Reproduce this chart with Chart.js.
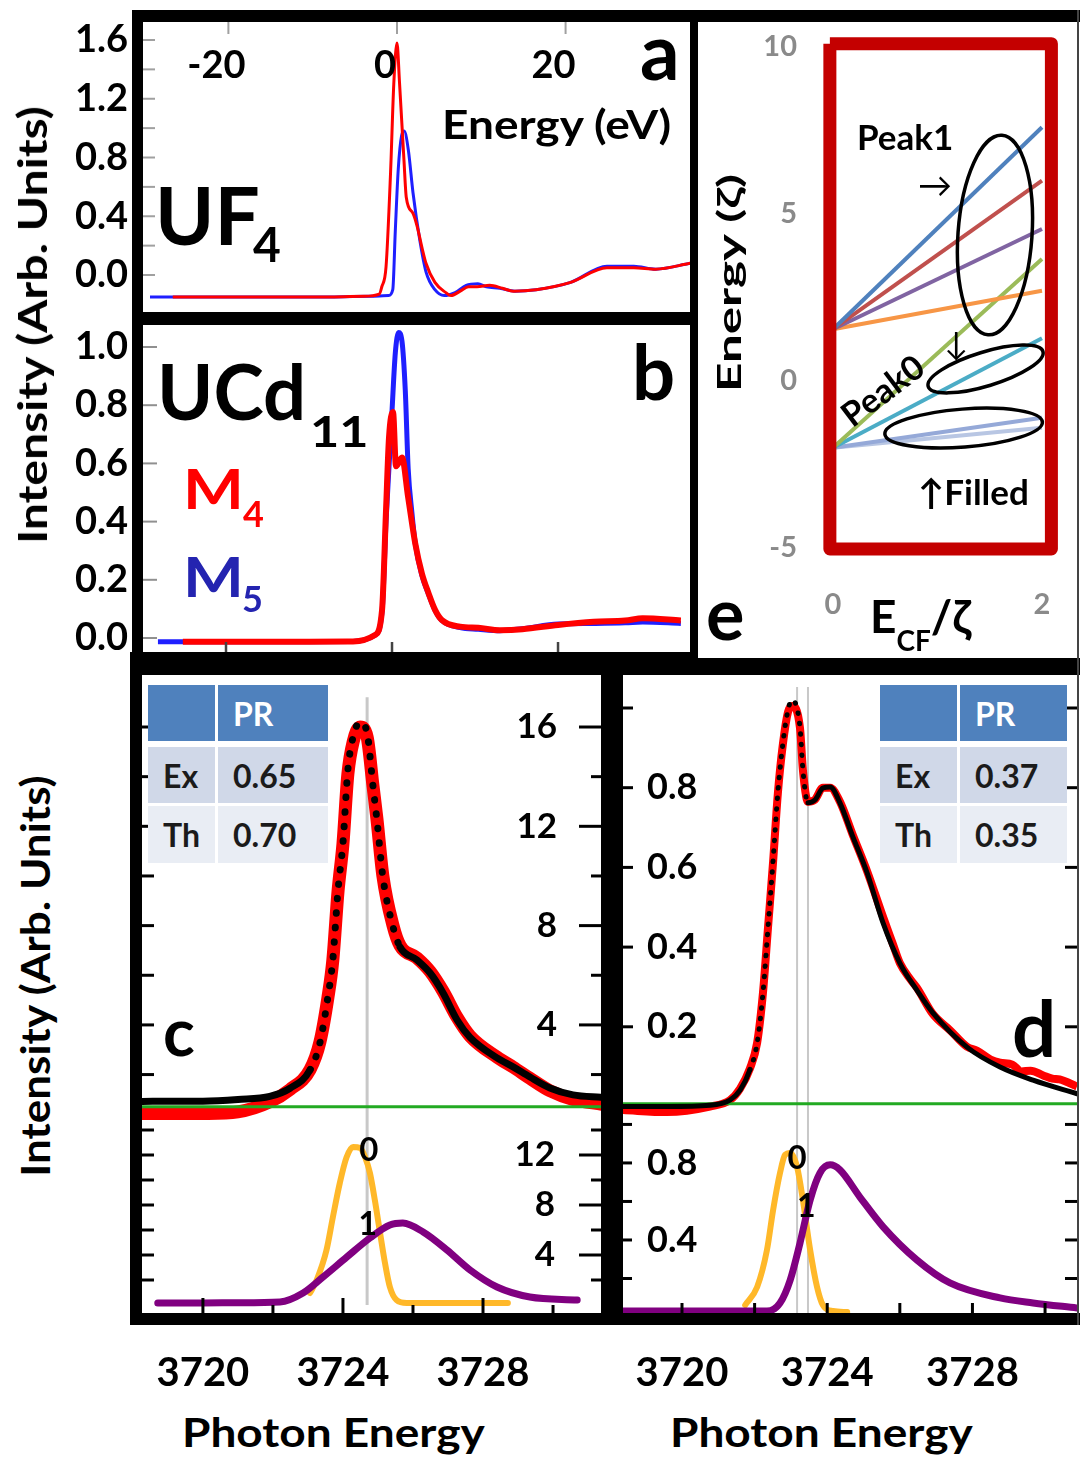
<!DOCTYPE html>
<html lang="en">
<head>
<meta charset="UTF-8">
<title>UF4 / UCd11 M-edge spectra</title>
<script src="https://cdn.jsdelivr.net/npm/chart.js"></script>
<style>
  html, body { margin: 0; padding: 0; background: #fff; }
  #page { position: relative; width: 1080px; height: 1457px; overflow: hidden; font-family: Lato, "Open Sans", sans-serif; font-weight: 700; }
  #page canvas { position: absolute; }
  .bar { position: absolute; background: #000; z-index: 5; }
  .lbl { position: absolute; white-space: nowrap; line-height: 1; z-index: 6; transform-origin: 0 0; }
  .cell { position: absolute; z-index: 4; box-sizing: border-box; padding-left: 15px; display: flex; align-items: center; font-size: 32px; }
</style>
</head>
<body>
<div id="page">
  <canvas id="chartA" width="650" height="290" style="left:40px;top:22px"></canvas>
  <canvas id="chartB" width="650" height="327" style="left:40px;top:325px"></canvas>
  <canvas id="chartE" width="379" height="636" style="left:698px;top:22px"></canvas>
  <canvas id="chartCtop" width="459" height="445" style="left:142px;top:675px"></canvas>
  <canvas id="chartCbot" width="459" height="287" style="left:142px;top:1120px"></canvas>
  <canvas id="chartDtop" width="454" height="445" style="left:623px;top:675px"></canvas>
  <canvas id="chartDbot" width="454" height="287" style="left:623px;top:1120px"></canvas>
</div>

<script>
// ---- panel a: UF4, energy relative to edge (eV) ----
const aM4E = [-26.6, -10, -4, -2.1, -1.8, -1.3, -0.76, -0.38, 0, 0.3, 0.83, 1.1, 1.9, 2.4, 2.95, 3.44, 4.5, 5.8, 6.4, 7.5, 8.5, 9.5, 11, 12.5, 13.8, 16.5, 20.6, 24.9, 28.1, 30.7, 34.8];
const aM4I = [-0.15, -0.15, -0.145, -0.13, -0.08, 0.055, 0.7, 1.3, 1.58, 1.31, 0.78, 0.53, 0.42, 0.33, 0.19, 0.08, -0.05, -0.12, -0.14, -0.11, -0.08, -0.08, -0.07, -0.09, -0.11, -0.1, -0.05, 0.05, 0.05, 0.04, 0.08];
const aM5E = [-29.3, -10, -3, -1.0, -0.5, -0.2, 0.15, 0.55, 0.85, 1.35, 1.9, 2.7, 3.45, 4.5, 5.6, 6.9, 8.2, 9.6, 10.6, 12.2, 14, 16.5, 20.6, 24.9, 28.1, 30.7, 34.8];
const aM5I = [-0.15, -0.15, -0.145, -0.14, -0.1, 0.3, 0.72, 0.95, 0.98, 0.85, 0.56, 0.24, 0.02, -0.1, -0.14, -0.12, -0.07, -0.06, -0.08, -0.09, -0.11, -0.1, -0.05, 0.06, 0.06, 0.04, 0.08];
const aXTicks = [-20, 0, 20];
const aYTicks = [0, 0.4, 0.8, 1.2, 1.6];

// ---- panel b: UCd11 ----
const bM4E = [-25.2, -10, -4.7, -2.05, -1.2, -0.72, -0.36, 0.12, 0.48, 1.2, 1.93, 2.8, 3.6, 4.4, 5.2, 6.0, 8.2, 10.4, 13, 15.7, 20, 24.3, 28.1, 30.2, 34.8];
const bM4I = [-0.013, -0.013, -0.012, 0.01, 0.096, 0.44, 0.69, 0.777, 0.59, 0.62, 0.486, 0.325, 0.222, 0.154, 0.096, 0.062, 0.039, 0.035, 0.027, 0.03, 0.045, 0.056, 0.06, 0.068, 0.06];
const bM5E = [-28.2, -10, -4.7, -2.05, -1.2, -0.72, -0.3, 0, 0.4, 0.8, 1.2, 1.6, 1.95, 2.4, 2.8, 3.6, 4.4, 5.2, 6.0, 8.2, 10.4, 13, 15.7, 20, 24.3, 28.1, 30.2, 34.8];
const bM5I = [-0.013, -0.013, -0.012, 0.01, 0.09, 0.4, 0.62, 0.78, 0.98, 1.05, 1.02, 0.85, 0.58, 0.43, 0.325, 0.215, 0.15, 0.094, 0.06, 0.036, 0.03, 0.025, 0.032, 0.048, 0.05, 0.052, 0.055, 0.05];
const bYTicks = [0, 0.2, 0.4, 0.6, 0.8, 1.0];

// ---- panel e: levels vs E_CF / zeta ----
const eX = [0, 2];
const eStart = [1.55, 1.55, 1.55, 1.55, -2.0, -2.0, -2.0, -2.0];
const eEnd = [7.6, 6.0, 4.55, 2.7, 3.65, 1.28, -1.1, -1.4];
const eBoxX = [-0.03, 2.09, 2.09, -0.03, -0.03];
const eBoxY = [10.1, 10.1, -5.03, -5.03, 10.1];
const eXTicks = [0, 2];
const eYTicks = [-5, 0, 5, 10];

// ---- panel c ----
const cE = [3718.2, 3720, 3721, 3721.91, 3722.49, 3723.06, 3723.34, 3723.57, 3723.71, 3723.86, 3724.0, 3724.14, 3724.29, 3724.49, 3724.69, 3724.86, 3724.97, 3725.14, 3725.43, 3725.63, 3726.11, 3726.49, 3726.86, 3727.26, 3727.63, 3728.4, 3728.86, 3729.34, 3729.91, 3730.57, 3731.4];
const cTheory = [0.92, 0.93, 1.0, 1.12, 1.45, 2.19, 3.27, 5.13, 6.62, 9.44, 11.33, 14.27, 15.6, 16.2, 15.76, 13.59, 12.26, 9.96, 7.95, 7.14, 6.62, 6.09, 5.29, 4.2, 3.5, 2.67, 2.31, 1.9, 1.46, 1.18, 1.08];
const cExp = [0.42, 0.43, 0.5, 0.9, 1.4, 2.2, 3.3, 5.1, 6.6, 9.4, 11.3, 14.1, 15.4, 16.0, 15.6, 13.6, 12.3, 10.0, 8.0, 7.2, 6.7, 6.15, 5.35, 4.3, 3.55, 2.7, 2.3, 1.85, 1.35, 1.0, 0.8];
const cOrangeE = [3723.06, 3723.25, 3723.53, 3723.71, 3723.91, 3724.1, 3724.29, 3724.49, 3724.63, 3724.77, 3724.91, 3725.06, 3725.2, 3725.34, 3725.53, 3725.82, 3728.71];
const cOrangeI = [0.96, 2.0, 4.4, 7.0, 9.76, 11.8, 12.64, 12.56, 11.84, 10.56, 8.4, 5.76, 3.36, 1.44, 0.4, 0.16, 0.16];
const cPurpleE = [3718.71, 3720, 3721, 3722.2, 3722.86, 3723.43, 3724.11, 3724.77, 3725.34, 3725.71, 3726.29, 3726.97, 3727.63, 3728.4, 3729.34, 3730.69];
const cPurpleI = [0.16, 0.16, 0.18, 0.24, 0.96, 2.24, 3.84, 5.36, 6.4, 6.56, 5.84, 4.4, 2.8, 1.44, 0.64, 0.4];
const cMarkE = 3724.69;
const cBase = 0.7;
const cTopTicks = [4, 8, 12, 16];
const cBotTicks = [4, 8, 12];
const cTable = [['', 'PR'], ['Ex', '0.65'], ['Th', '0.70']];

// ---- panel d ----
const dE = [3718.37, 3719.59, 3720.77, 3721.32, 3721.6, 3721.87, 3722.07, 3722.23, 3722.37, 3722.51, 3722.64, 3722.78, 3722.92, 3723.03, 3723.25, 3723.33, 3723.47, 3723.66, 3723.88, 3724.08, 3724.35, 3724.71, 3725.1, 3725.54, 3726.0, 3726.47, 3726.91, 3727.85, 3728.76, 3729.67, 3730.88];
const dTheory = [0.0, 0.0, 0.003, 0.016, 0.041, 0.092, 0.159, 0.285, 0.45, 0.619, 0.787, 0.912, 0.995, 1.02, 0.952, 0.845, 0.762, 0.769, 0.799, 0.802, 0.762, 0.676, 0.586, 0.46, 0.36, 0.292, 0.235, 0.149, 0.099, 0.066, 0.032];
const dExpE = [3718.37, 3719.59, 3720.77, 3721.32, 3721.6, 3721.87, 3722.07, 3722.23, 3722.37, 3722.51, 3722.64, 3722.78, 3722.92, 3723.03, 3723.25, 3723.33, 3723.47, 3723.66, 3723.88, 3724.08, 3724.35, 3724.71, 3725.1, 3725.54, 3725.8, 3726.0, 3726.3, 3726.47, 3726.91, 3727.4, 3727.85, 3728.13, 3728.5, 3728.76, 3729.1, 3729.35, 3729.6, 3729.95, 3730.2, 3730.4, 3730.88];
const dExpI = [-0.009, -0.014, 0.0, 0.016, 0.045, 0.095, 0.16, 0.285, 0.45, 0.615, 0.785, 0.91, 0.99, 1.005, 0.95, 0.845, 0.765, 0.77, 0.80, 0.80, 0.765, 0.68, 0.59, 0.475, 0.41, 0.36, 0.318, 0.298, 0.232, 0.19, 0.15, 0.14, 0.118, 0.11, 0.105, 0.088, 0.09, 0.078, 0.07, 0.068, 0.05];
const dOrangeE = [3721.74, 3722.07, 3722.34, 3722.51, 3722.7, 3722.84, 3722.98, 3723.17, 3723.33, 3723.53, 3723.72, 3723.88, 3724.16, 3724.55];
const dOrangeI = [0.062, 0.156, 0.348, 0.556, 0.748, 0.842, 0.852, 0.779, 0.608, 0.348, 0.156, 0.062, 0.031, 0.026];
const dPurpleE = [3718.37, 3722.34, 3722.7, 3722.98, 3723.25, 3723.53, 3723.8, 3724.08, 3724.35, 3724.9, 3725.54, 3726.47, 3727.38, 3728.76, 3729.67, 3730.88];
const dPurpleI = [0.031, 0.031, 0.073, 0.192, 0.384, 0.608, 0.748, 0.79, 0.764, 0.623, 0.468, 0.296, 0.177, 0.099, 0.073, 0.047];
const dMarkE = [3723.17, 3723.47];
const dBase = 0.007;
const dTopTicks = [0.2, 0.4, 0.6, 0.8];
const dBotTicks = [0.4, 0.8];
const dTable = [['', 'PR'], ['Ex', '0.37'], ['Th', '0.35']];

const photonTicks = [3720, 3724, 3728];
const photonMinor = [3720, 3722, 3724, 3726, 3728, 3730];

const RED = '#ff0000', BLUE = '#1f1fff', GREEN = '#22aa22', ORANGE = '#ffb829', PURPLE = '#800080', GREY = '#8a8a8a';
const levelColors = ['#4f81bd', '#c0504d', '#8064a2', '#f79646', '#9bbb59', '#4bacc6', '#95a9d8', '#b8c6e3'];

Chart.defaults.font.family = 'Lato';
Chart.defaults.font.weight = 'bold';
Chart.defaults.color = '#000';

// tick marks inside the frames, tick labels inside the plot, text notes and ellipses
const decor = {
  id: 'decor',
  afterDatasetsDraw(chart, args, o) {
    const { ctx, chartArea: a, scales } = chart;
    ctx.save();
    for (const m of o.marks || []) {
      const s = scales[m.scale];
      ctx.strokeStyle = m.color || '#000';
      ctx.lineWidth = m.width || 3;
      for (const v of m.values) {
        const p = s.getPixelForValue(v);
        const len = m.major && m.major.includes(v) ? m.majorLen : m.len;
        ctx.beginPath();
        if (m.side === 'left') { ctx.moveTo(a.left, p); ctx.lineTo(a.left + len, p); }
        if (m.side === 'right') { ctx.moveTo(a.right, p); ctx.lineTo(a.right - len, p); }
        if (m.side === 'top') { ctx.moveTo(p, a.top); ctx.lineTo(p, a.top + len); }
        if (m.side === 'bottom') { ctx.moveTo(p, a.bottom); ctx.lineTo(p, a.bottom - len); }
        ctx.stroke();
      }
    }
    for (const l of o.labels || []) {
      const s = scales[l.scale];
      ctx.font = l.font;
      ctx.fillStyle = l.color || '#000';
      ctx.textAlign = l.align || 'center';
      ctx.textBaseline = 'middle';
      for (const v of l.values) {
        const t = l.format ? l.format(v) : String(v);
        const p = s.getPixelForValue(v);
        if (s.isHorizontal()) ctx.fillText(t, p + (l.dx || 0), a.top + l.offset);
        else ctx.fillText(t, l.align === 'right' ? a.right - l.offset : a.left + l.offset, p);
      }
    }
    for (const n of o.notes || []) {
      ctx.font = n.font;
      ctx.fillStyle = '#000';
      ctx.textAlign = 'center';
      ctx.textBaseline = 'middle';
      ctx.fillText(n.text, scales.x.getPixelForValue(n.x), scales.y.getPixelForValue(n.y));
    }
    for (const e of o.ellipses || []) {
      ctx.beginPath();
      ctx.ellipse(scales.x.getPixelForValue(e.x), scales.y.getPixelForValue(e.y), e.rx, e.ry, e.rot * Math.PI / 180, 0, 2 * Math.PI);
      ctx.lineWidth = 3.5;
      ctx.strokeStyle = '#000';
      ctx.stroke();
    }
    ctx.restore();
  }
};
Chart.register(decor);

const pts = (xs, ys) => xs.map((x, i) => ({ x, y: ys[i] }));
const curve = (xs, ys, color, width, extra = {}) => Object.assign({
  data: pts(xs, ys), borderColor: color, borderWidth: width, pointRadius: 0, fill: false,
  cubicInterpolationMode: 'monotone', borderJoinStyle: 'round'
}, extra);
const straight = (data, color, width, extra = {}) => Object.assign({
  data, borderColor: color, borderWidth: width, pointRadius: 0, fill: false, tension: 0
}, extra);

const fixedTicks = vals => axis => { axis.ticks = vals.map(v => ({ value: v })); };
const fitWidth = w => s => { s.width = w; s.paddingTop = 0; s.paddingBottom = 0; };
const fitHeight = h => s => { s.height = h; s.paddingLeft = 0; s.paddingRight = 0; };
const hidden = (min, max) => ({ type: 'linear', min, max, display: false });
const noGrid = { display: false, drawTicks: false };

function leftAxis(min, max, ticks, width, padding, size, color, fmt) {
  return {
    type: 'linear', position: 'left', min, max,
    afterBuildTicks: fixedTicks(ticks), afterFit: fitWidth(width),
    ticks: { padding, color, font: { size }, autoSkip: false, callback: fmt },
    grid: noGrid, border: { display: false }
  };
}
function bottomAxis(min, max, ticks, height, padding, size, color) {
  return {
    type: 'linear', position: 'bottom', min, max,
    afterBuildTicks: fixedTicks(ticks), afterFit: fitHeight(height),
    ticks: { padding, color, font: { size }, autoSkip: false, maxRotation: 0, callback: v => String(v) },
    grid: noGrid, border: { display: false }
  };
}
function opts(scales, decorOpts) {
  return {
    responsive: false, animation: false, devicePixelRatio: 1,
    layout: { padding: 0 },
    plugins: { legend: { display: false }, tooltip: { enabled: false }, decor: decorOpts },
    scales
  };
}
const tenths = v => v.toFixed(1);

// panel a
new Chart('chartA', {
  type: 'line',
  data: { datasets: [
    curve(aM4E, aM4I, RED, 3, { order: 0 }),
    curve(aM5E, aM5I, BLUE, 3, { order: 1 })
  ] },
  options: opts({
    x: hidden(-30.13, 34.76),
    y: leftAxis(-0.2519, 1.7226, aYTicks, 103, 15, 38, '#000', tenths)
  }, {
    marks: [
      { scale: 'y', side: 'left', values: [0, 0.2, 0.4, 0.6, 0.8, 1.0, 1.2, 1.4, 1.6], len: 12, color: '#a0a0a0', width: 2 },
      { scale: 'x', side: 'top', values: aXTicks, len: 12, color: '#a0a0a0', width: 2 }
    ],
    labels: [{ scale: 'x', values: aXTicks, offset: 44, dx: -12, font: 'bold 38px Lato' }]
  })
});

// panel b
new Chart('chartB', {
  type: 'line',
  data: { datasets: [
    curve(bM4E, bM4I, RED, 6, { order: 0 }),
    curve(bM5E, bM5I, BLUE, 5, { order: 1 })
  ] },
  options: opts({
    x: hidden(-30.0, 35.9),
    y: leftAxis(-0.0481, 1.0756, bYTicks, 103, 15, 38, '#000', tenths)
  }, {
    marks: [
      { scale: 'y', side: 'left', values: bYTicks, len: 14, color: '#909090', width: 2 },
      { scale: 'x', side: 'bottom', values: aXTicks, len: 10, color: '#444', width: 2.5 }
    ]
  })
});

// panel e
new Chart('chartE', {
  type: 'line',
  data: { datasets: [
    straight(pts(eBoxX, eBoxY), '#c40000', 13, { order: 0, borderJoinStyle: 'round' }),
    ...eStart.map((s, i) => straight([{ x: eX[0], y: s }, { x: eX[1], y: eEnd[i] }], levelColors[i], 4, { order: i + 1 }))
  ] },
  options: opts({
    x: bottomAxis(-0.268, 2.335, eXTicks, 83, 12, 29, GREY),
    y: leftAxis(-5.81, 10.75, eYTicks, 107, 8, 29, GREY, v => String(v))
  }, {
    ellipses: [
      { x: 1.55, y: 4.37, rx: 37, ry: 100, rot: 4 },
      { x: 1.46, y: 0.36, rx: 60, ry: 17, rot: -17 },
      { x: 1.25, y: -1.41, rx: 79, ry: 19, rot: -4.4 }
    ]
  })
});

// panel c, measured (red) and calculated (black) spectrum
const cDots = c => (c.p0.parsed.x >= 3722.6 && c.p0.parsed.x < 3725.6) ? [0.5, 14] : undefined;
new Chart('chartCtop', {
  type: 'line',
  data: { datasets: [
    curve(cE, cTheory, '#000', 7, { order: 0, borderCapStyle: 'round', segment: { borderDash: cDots } }),
    straight([{ x: 3718.26, y: cBase }, { x: 3731.37, y: cBase }], GREEN, 3, { order: 1 }),
    curve(cE, cExp, RED, 13, { order: 2 }),
    straight([{ x: cMarkE, y: 17.2 }, { x: cMarkE, y: 0 }], '#c8c8c8', 3, { order: 3 })
  ] },
  options: opts({
    x: hidden(3718.26, 3731.37),
    y: hidden(0.17, 18.095)
  }, {
    marks: [
      { scale: 'y', side: 'left', values: [2, 4, 6, 8, 10, 12, 14, 16], len: 12 },
      { scale: 'y', side: 'right', values: [2, 4, 6, 8, 10, 12, 14, 16], len: 10, major: cTopTicks, majorLen: 22 }
    ],
    labels: [{ scale: 'y', values: cTopTicks, align: 'right', offset: 44, font: 'bold 35px Lato' }]
  })
});

// panel c, peak components
new Chart('chartCbot', {
  type: 'line',
  data: { datasets: [
    curve(cOrangeE, cOrangeI, ORANGE, 6, { order: 1, borderCapStyle: 'round' }),
    curve(cPurpleE, cPurpleI, PURPLE, 7, { order: 0, borderCapStyle: 'round' }),
    straight([{ x: cMarkE, y: 14.8 }, { x: cMarkE, y: 0 }], '#c8c8c8', 3, { order: 2 })
  ] },
  options: opts({
    x: bottomAxis(3718.26, 3731.37, photonTicks, 94, 36, 40, '#000'),
    y: hidden(-0.64, 14.8)
  }, {
    marks: [
      { scale: 'y', side: 'left', values: [2, 4, 6, 8, 10, 12, 14], len: 12 },
      { scale: 'y', side: 'right', values: [2, 4, 6, 8, 10, 12, 14], len: 10, major: cBotTicks, majorLen: 22 },
      { scale: 'x', side: 'bottom', values: photonMinor, len: 8, major: photonTicks, majorLen: 15 }
    ],
    labels: [{ scale: 'y', values: cBotTicks, align: 'right', offset: 46, font: 'bold 35px Lato' }],
    notes: [
      { text: '0', x: 3724.74, y: 12.4, font: 'bold 33px Lato' },
      { text: '1', x: 3724.71, y: 6.4, font: 'bold 32px Lato' }
    ]
  })
});

// panel d, measured (red) and calculated (black) spectrum
const dDots = c => (c.p0.parsed.x >= 3721.8 && c.p0.parsed.x < 3723.35) ? [0.5, 10] : undefined;
new Chart('chartDtop', {
  type: 'line',
  data: { datasets: [
    curve(dE, dTheory, '#000', 5, { order: 0, borderCapStyle: 'round', segment: { borderDash: dDots } }),
    straight([{ x: 3718.37, y: dBase }, { x: 3730.88, y: dBase }], GREEN, 3, { order: 1 }),
    curve(dExpE, dExpI, RED, 8, { order: 2 }),
    ...dMarkE.map((m, i) => straight([{ x: m, y: 1.053 }, { x: m, y: -0.05 }], '#c8c8c8', 2, { order: 3 + i }))
  ] },
  options: opts({
    x: hidden(3718.375, 3730.88),
    y: hidden(-0.0339, 1.0828)
  }, {
    marks: [
      { scale: 'y', side: 'left', values: [0.2, 0.4, 0.6, 0.8, 1.0], len: 10 },
      { scale: 'y', side: 'right', values: [0.2, 0.4, 0.6, 0.8, 1.0], len: 12 }
    ],
    labels: [{ scale: 'y', values: dTopTicks, align: 'left', offset: 24, font: 'bold 36px Lato', format: tenths }]
  })
});

// panel d, peak components
new Chart('chartDbot', {
  type: 'line',
  data: { datasets: [
    curve(dOrangeE, dOrangeI, ORANGE, 6, { order: 1, borderCapStyle: 'round' }),
    curve(dPurpleE, dPurpleI, PURPLE, 7, { order: 0, borderCapStyle: 'round' }),
    ...dMarkE.map((m, i) => straight([{ x: m, y: 1.023 }, { x: m, y: 0 }], '#c8c8c8', 2, { order: 2 + i }))
  ] },
  options: opts({
    x: bottomAxis(3718.375, 3730.88, photonTicks, 94, 36, 40, '#000'),
    y: hidden(0.0208, 1.023)
  }, {
    marks: [
      { scale: 'y', side: 'left', values: [0.2, 0.4, 0.6, 0.8, 1.0], len: 9 },
      { scale: 'y', side: 'right', values: [0.2, 0.4, 0.6, 0.8, 1.0], len: 12 },
      { scale: 'x', side: 'bottom', values: photonMinor, len: 10 }
    ],
    labels: [{ scale: 'y', values: dBotTicks, align: 'left', offset: 24, font: 'bold 36px Lato', format: tenths }],
    notes: [
      { text: '0', x: 3723.17, y: 0.826, font: 'bold 33px Lato' },
      { text: '1', x: 3723.42, y: 0.571, font: 'bold 32px Lato' }
    ]
  })
});

// ---- frames, texts and tables ----
const page = document.getElementById('page');
function bar(x, y, w, h, color) {
  const d = document.createElement('div');
  d.className = 'bar';
  d.style.cssText = `left:${x}px;top:${y}px;width:${w}px;height:${h}px` + (color ? `;background:${color}` : '');
  page.appendChild(d);
}
function label(html, x, base, size, o = {}) {
  const d = document.createElement('div');
  d.className = 'lbl';
  d.innerHTML = html;
  d.style.left = x + 'px';
  d.style.top = (base - 0.887 * size) + 'px';
  d.style.fontSize = size + 'px';
  if (o.color) d.style.color = o.color;
  if (o.weight) d.style.fontWeight = o.weight;
  if (o.sx) d.style.transform = `scaleX(${o.sx})`;
  page.appendChild(d);
  return d;
}
function turned(html, cx, cy, size, angle, sx = 1) {
  const d = document.createElement('div');
  d.className = 'lbl';
  d.innerHTML = html;
  d.style.left = cx + 'px';
  d.style.top = cy + 'px';
  d.style.fontSize = size + 'px';
  d.style.transformOrigin = '50% 50%';
  d.style.transform = `translate(-50%, -50%) rotate(${angle}deg) scaleX(${sx})`;
  page.appendChild(d);
}
function table(x, y, w1, w2, rows) {
  const tops = [y, y + 62, y + 121], hs = [56, 56, 57];
  const bgs = ['#4f81bd', '#d0d8e8', '#e9edf4'];
  rows.forEach((r, i) => {
    [[x, w1], [x + w1 + 3, w2]].forEach(([cx, cw], j) => {
      const c = document.createElement('div');
      c.className = 'cell';
      c.style.cssText = `left:${cx}px;top:${tops[i]}px;width:${cw}px;height:${hs[i]}px;background:${bgs[i]};color:${i ? '#1b1b1b' : '#fff'}`;
      c.textContent = r[j];
      page.appendChild(c);
    });
  });
}

bar(132, 10, 948, 12);
bar(132, 10, 11, 665);
bar(132, 312, 566, 13);
bar(690, 10, 8, 665);
bar(130, 652, 568, 23);
bar(698, 658, 382, 17);
bar(130, 652, 12, 673);
bar(601, 658, 22, 667);
bar(130, 1313, 950, 12);
bar(1077, 10, 2, 1315, '#444');

turned('Intensity (Arb. Units)', 32, 325, 40, -90, 1.2);
turned('Intensity (Arb. Units)', 35, 976, 40, -90, 1.1);

label('UF', 155, 245, 80);
label('4', 253, 263, 48);
label('a', 640, 80, 78);
label('Energy (eV)', 442, 139, 40, { sx: 1.15 });

label('UCd', 157, 420, 76);
label('11', 310, 447, 42, { sx: 1.2 });
label('b', 632, 400, 76);
label('M', 183, 510, 56, { color: RED, sx: 1.15 });
label('4', 243, 527, 36, { color: RED });
label('M', 183, 598, 56, { color: '#2424b0', sx: 1.15 });
label('5', 242, 612, 36, { color: '#2424b0' });

label('Peak1', 857, 150, 35);
label('\u2192', 918, 197, 34, { weight: 400 });
turned('Peak0', 882, 390, 34, -37);
label('\u2193', 944, 355, 32, { weight: 400 });
label('\u2191Filled', 918, 505, 35);
label('e', 706, 640, 72);
label('E<span style="font-size:28px;position:relative;top:18px">CF</span>/\u03b6', 870, 634, 46);
turned('Energy (\u03b6)', 729, 283, 32, -90, 1.6);

table(148, 685, 67, 110, cTable);
table(880, 685, 77, 107, dTable);
label('c', 163, 1057, 66);
label('d', 1012, 1057, 78);
label('Photon Energy', 182, 1447, 40, { sx: 1.15 });
label('Photon Energy', 670, 1447, 40, { sx: 1.15 });
</script>
</body>
</html>
